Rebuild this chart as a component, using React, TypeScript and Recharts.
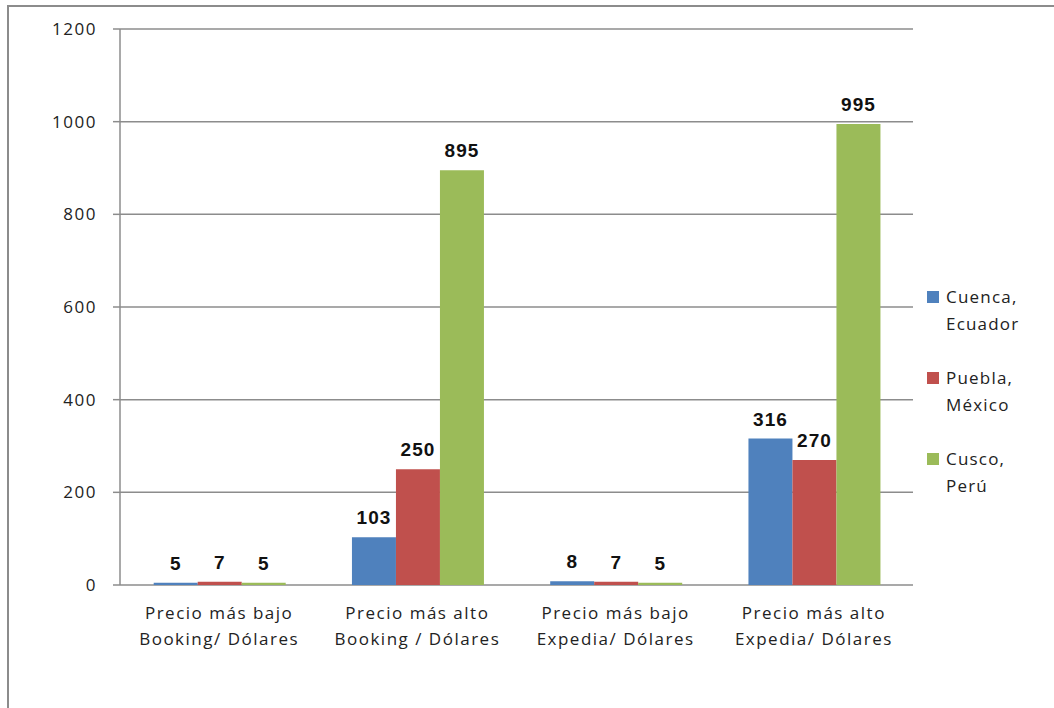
import { BarChart, Bar, XAxis, YAxis, CartesianGrid, LabelList } from 'recharts';

const categories = [
  'Precio más bajo\nBooking/ Dólares',
  'Precio más alto\nBooking / Dólares',
  'Precio más bajo\nExpedia/ Dólares',
  'Precio más alto\nExpedia/ Dólares',
];
const cuenca = [5, 103, 8, 316];
const puebla = [7, 250, 7, 270];
const cusco = [5, 895, 5, 995];
const yTicks = [0, 200, 400, 600, 800, 1000, 1200];

const series = [
  { key: 'cuenca', name: 'Cuenca,\nEcuador', color: '#4F81BD' },
  { key: 'puebla', name: 'Puebla,\nMéxico', color: '#C0504D' },
  { key: 'cusco', name: 'Cusco,\nPerú', color: '#9BBB59' },
];

const data = categories.map((c, i) => ({
  name: c,
  cuenca: cuenca[i],
  puebla: puebla[i],
  cusco: cusco[i],
}));

const FONT = '"Open Sans", sans-serif';
const GREY = '#8c8c8c';

const CatTick = (props: any) => {
  const { x, y, payload } = props;
  const lines = String(payload.value).split('\n');
  return (
    <text x={x} y={y} textAnchor="middle" fontFamily={FONT} fontSize={17} letterSpacing={1.5} fill="#222">
      {lines.map((l, i) => (
        <tspan key={i} x={x} y={y + 26 + i * 26}>{l}</tspan>
      ))}
    </text>
  );
};

export default function App() {
  return (
    <div style={{ position: 'absolute', left: 0, top: 0, width: 1054, height: 708, background: '#fff' }}>
      <div
        style={{
          position: 'absolute', left: 7, top: 5, width: 1060, height: 720,
          borderLeft: `2px solid ${GREY}`, borderTop: `2px solid ${GREY}`,
        }}
      />
      <div style={{ position: 'absolute', left: 0, top: 0 }}>
        <BarChart
          width={1054}
          height={708}
          data={data}
          margin={{ top: 29, right: 141, bottom: 63, left: 60 }}
          barCategoryGap="17%"
          barGap={0}
        >
          <CartesianGrid vertical={false} stroke={GREY} strokeWidth={1.5} />
          <XAxis
            xAxisId="edges"
            type="number"
            domain={[0, 4]}
            ticks={[0, 1, 2, 3, 4]}
            allowDataOverflow
            height={0}
            stroke={GREY}
            strokeWidth={1.5}
            tickSize={7}
            tickFormatter={() => ''}
          />
          <XAxis dataKey="name" height={60} axisLine={false} tickLine={false} tick={<CatTick />} interval={0} />
          <YAxis
            width={60}
            domain={[0, 1200]}
            ticks={yTicks}
            stroke={GREY}
            strokeWidth={1.5}
            tickSize={7}
            tickMargin={16}
            tick={{ fontFamily: FONT, fontSize: 17, letterSpacing: 1.5, fill: '#222' }}
          />
          {series.map((s) => (
            <Bar key={s.key} dataKey={s.key} fill={s.color} isAnimationActive={false}>
              <LabelList
                dataKey={s.key}
                position="top"
                offset={13}
                style={{ fontFamily: '"Liberation Sans", Arial, sans-serif', fontSize: 19, fontWeight: 700, fill: '#111', letterSpacing: 1 }}
              />
            </Bar>
          ))}
        </BarChart>
      </div>
      {series.map((s, i) => (
        <div
          key={s.key}
          style={{
            position: 'absolute', left: 927, top: 283 + i * 81,
            fontFamily: FONT, fontSize: 17, letterSpacing: 1.2, color: '#222', lineHeight: '27px',
          }}
        >
          <span style={{ position: 'absolute', left: 0, top: 8, width: 12, height: 12, background: s.color }} />
          <div style={{ marginLeft: 19, whiteSpace: 'pre' }}>{s.name}</div>
        </div>
      ))}
    </div>
  );
}
